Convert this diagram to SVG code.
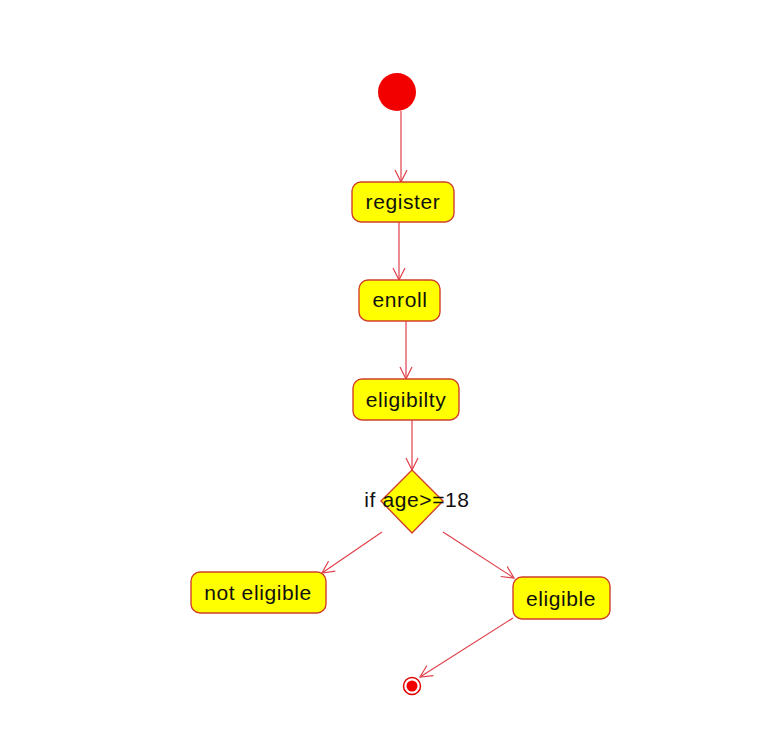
<svg xmlns="http://www.w3.org/2000/svg" width="781" height="750" viewBox="0 0 781 750">
<style>
.box{fill:#ffff00;stroke:#d0402a;stroke-width:1.4}
.lbl{font-family:"Liberation Sans",Arial,sans-serif;font-size:21px;letter-spacing:0.6px;fill:#111;text-anchor:middle}
.edge{stroke:#e0404a;stroke-width:1.2;fill:none}
</style>
<defs>
<marker id="arr" viewBox="0 0 14 14" refX="13" refY="7" markerWidth="14" markerHeight="14" markerUnits="userSpaceOnUse" orient="auto">
<path d="M1,1 L13,7 L1,13" fill="none" stroke="#e0404a" stroke-width="1.2"/>
</marker>
</defs>
<rect width="781" height="750" fill="#ffffff"/>
<g id="connectors">
<line class="edge" x1="401" y1="111" x2="401" y2="182" marker-end="url(#arr)"/>
<line class="edge" x1="399" y1="222" x2="399" y2="280" marker-end="url(#arr)"/>
<line class="edge" x1="406" y1="321" x2="406" y2="379" marker-end="url(#arr)"/>
<line class="edge" x1="412" y1="420" x2="412" y2="470" marker-end="url(#arr)"/>
<line class="edge" x1="382" y1="532" x2="322" y2="573" marker-end="url(#arr)"/>
<line class="edge" x1="443" y1="532" x2="514" y2="578" marker-end="url(#arr)"/>
<line class="edge" x1="513" y1="618" x2="420" y2="677" marker-end="url(#arr)"/>
</g>
<g id="start"><circle cx="397" cy="92" r="19" fill="#f20000"/></g>
<g id="register"><rect class="box" x="352" y="182" width="102" height="40" rx="9"/><text class="lbl" x="403" y="209">register</text></g>
<g id="enroll"><rect class="box" x="359" y="280" width="81" height="41" rx="9"/><text class="lbl" x="400" y="307">enroll</text></g>
<g id="eligibilty"><rect class="box" x="353" y="379" width="106" height="41" rx="9"/><text class="lbl" x="406" y="407">eligibilty</text></g>
<g id="decision"><path class="box" d="M412,470 L443,501 L412,533 L381,501 Z"/><text class="lbl" x="417" y="507">if age&gt;=18</text></g>
<g id="not-eligible"><rect class="box" x="191" y="572" width="135" height="41" rx="9"/><text class="lbl" x="258" y="600">not eligible</text></g>
<g id="eligible"><rect class="box" x="513" y="577" width="97" height="42" rx="9"/><text class="lbl" x="561" y="606">eligible</text></g>
<g id="end"><circle cx="412" cy="686" r="8.5" fill="#ffffff" stroke="#e00000" stroke-width="1.5"/><circle cx="412" cy="686" r="5.5" fill="#f20000"/></g>
</svg>
